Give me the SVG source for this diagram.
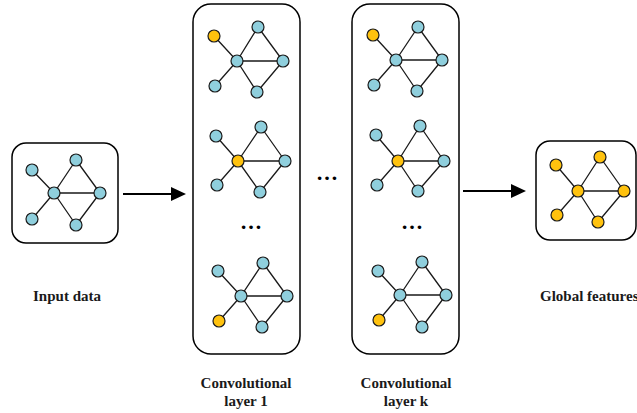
<svg xmlns="http://www.w3.org/2000/svg" width="637" height="413" viewBox="0 0 637 413">
  <style>
    .box { fill: #ffffff; stroke: #000000; stroke-width: 1.5; }
    .edge { stroke: #1a1a1a; stroke-width: 1.3; fill: none; }
    .n { stroke: #1a1a1a; stroke-width: 1.2; }
    .b { fill: #8fcfdd; }
    .y { fill: #ffc20e; }
    .lbl { font-family: "Liberation Serif", "Times New Roman", serif; font-weight: bold; font-size: 15px; fill: #1a1a1a; }
    .dots { font-family: "Liberation Serif", "Times New Roman", serif; font-weight: bold; font-size: 22px; fill: #000000; text-anchor: middle; }
    .conn { stroke: #000000; stroke-width: 2; fill: none; }
  </style>
  <rect width="637" height="413" fill="#ffffff"/>

  <!-- input graph -->
  <g id="input-data">
    <rect class="box" x="12" y="143" width="106" height="100" rx="14"/>
    <path class="edge" d="M32,170 L54,193 M32,219 L54,193 M54,193 L76,160 M54,193 L100,193 M54,193 L76,225 M76,160 L100,193 M76,225 L100,193"/>
    <circle class="n b" cx="32" cy="170" r="6"/>
    <circle class="n b" cx="76" cy="160" r="6"/>
    <circle class="n b" cx="54" cy="193" r="6"/>
    <circle class="n b" cx="100" cy="193" r="6"/>
    <circle class="n b" cx="32" cy="219" r="6"/>
    <circle class="n b" cx="76" cy="225" r="6"/>
    <text class="lbl" x="67" y="301" text-anchor="middle">Input data</text>
  </g>

  <!-- convolutional layer 1 -->
  <g id="conv-layer-1">
    <rect class="box" x="193" y="4" width="107" height="350" rx="18"/>
    <path class="edge" d="M214,36 L237,61 M215,86 L237,61 M237,61 L258,27 M237,61 L283,61 M237,61 L257,92 M258,27 L283,61 M257,92 L283,61"/>
    <circle class="n y" cx="214" cy="36" r="6"/>
    <circle class="n b" cx="258" cy="27" r="6"/>
    <circle class="n b" cx="237" cy="61" r="6"/>
    <circle class="n b" cx="283" cy="61" r="6"/>
    <circle class="n b" cx="215" cy="86" r="6"/>
    <circle class="n b" cx="257" cy="92" r="6"/>

    <path class="edge" d="M216,136 L238,161 M217,185 L238,161 M238,161 L261,127 M238,161 L285,161 M238,161 L260,192 M261,127 L285,161 M260,192 L285,161"/>
    <circle class="n b" cx="216" cy="136" r="6"/>
    <circle class="n b" cx="261" cy="127" r="6"/>
    <circle class="n y" cx="238" cy="161" r="6"/>
    <circle class="n b" cx="285" cy="161" r="6"/>
    <circle class="n b" cx="217" cy="185" r="6"/>
    <circle class="n b" cx="260" cy="192" r="6"/>

    <text class="dots" x="251" y="229">…</text>

    <path class="edge" d="M218,271 L241,296 M219,321 L241,296 M241,296 L263,263 M241,296 L287,296 M241,296 L262,327 M263,263 L287,296 M262,327 L287,296"/>
    <circle class="n b" cx="218" cy="271" r="6"/>
    <circle class="n b" cx="263" cy="263" r="6"/>
    <circle class="n b" cx="241" cy="296" r="6"/>
    <circle class="n b" cx="287" cy="296" r="6"/>
    <circle class="n y" cx="219" cy="321" r="6"/>
    <circle class="n b" cx="262" cy="327" r="6"/>

    <text class="lbl" x="246" y="388" text-anchor="middle">Convolutional</text>
    <text class="lbl" x="246" y="406" text-anchor="middle">layer 1</text>
  </g>

  <text id="layers-gap" class="dots" x="327" y="180">…</text>

  <!-- convolutional layer k -->
  <g id="conv-layer-k">
    <rect class="box" x="352" y="4" width="107" height="350" rx="18"/>
    <path class="edge" d="M373,35 L396,60 M374,85 L396,60 M396,60 L418,27 M396,60 L442,60 M396,60 L417,91 M418,27 L442,60 M417,91 L442,60"/>
    <circle class="n y" cx="373" cy="35" r="6"/>
    <circle class="n b" cx="418" cy="27" r="6"/>
    <circle class="n b" cx="396" cy="60" r="6"/>
    <circle class="n b" cx="442" cy="60" r="6"/>
    <circle class="n b" cx="374" cy="85" r="6"/>
    <circle class="n b" cx="417" cy="91" r="6"/>

    <path class="edge" d="M376,135 L398,161 M377,185 L398,161 M398,161 L420,126 M398,161 L444,161 M398,161 L418,191 M420,126 L444,161 M418,191 L444,161"/>
    <circle class="n b" cx="376" cy="135" r="6"/>
    <circle class="n b" cx="420" cy="126" r="6"/>
    <circle class="n y" cx="398" cy="161" r="6"/>
    <circle class="n b" cx="444" cy="161" r="6"/>
    <circle class="n b" cx="377" cy="185" r="6"/>
    <circle class="n b" cx="418" cy="191" r="6"/>

    <text class="dots" x="412" y="229">…</text>

    <path class="edge" d="M378,271 L400,295 M379,320 L400,295 M400,295 L422,262 M400,295 L446,295 M400,295 L422,327 M422,262 L446,295 M422,327 L446,295"/>
    <circle class="n b" cx="378" cy="271" r="6"/>
    <circle class="n b" cx="422" cy="262" r="6"/>
    <circle class="n b" cx="400" cy="295" r="6"/>
    <circle class="n b" cx="446" cy="295" r="6"/>
    <circle class="n y" cx="379" cy="320" r="6"/>
    <circle class="n b" cx="422" cy="327" r="6"/>

    <text class="lbl" x="406" y="388" text-anchor="middle">Convolutional</text>
    <text class="lbl" x="406" y="406" text-anchor="middle">layer k</text>
  </g>

  <!-- global features -->
  <g id="global-features">
    <rect class="box" x="536" y="141" width="100" height="99" rx="14"/>
    <path class="edge" d="M556,165 L578,191 M557,215 L578,191 M578,191 L600,157 M578,191 L624,191 M578,191 L598,222 M600,157 L624,191 M598,222 L624,191"/>
    <circle class="n y" cx="556" cy="165" r="6"/>
    <circle class="n y" cx="600" cy="157" r="6"/>
    <circle class="n y" cx="578" cy="191" r="6"/>
    <circle class="n y" cx="624" cy="191" r="6"/>
    <circle class="n y" cx="557" cy="215" r="6"/>
    <circle class="n y" cx="598" cy="222" r="6"/>
    <text class="lbl" x="540" y="301">Global features</text>
  </g>

  <!-- arrows between stages -->
  <g id="connectors">
    <line class="conn" x1="123" y1="194" x2="173" y2="194"/>
    <polygon points="171,187 186,194 171,201" fill="#000000"/>
    <line class="conn" x1="463" y1="191" x2="513" y2="191"/>
    <polygon points="511,184 526,191 511,198" fill="#000000"/>
  </g>
</svg>
